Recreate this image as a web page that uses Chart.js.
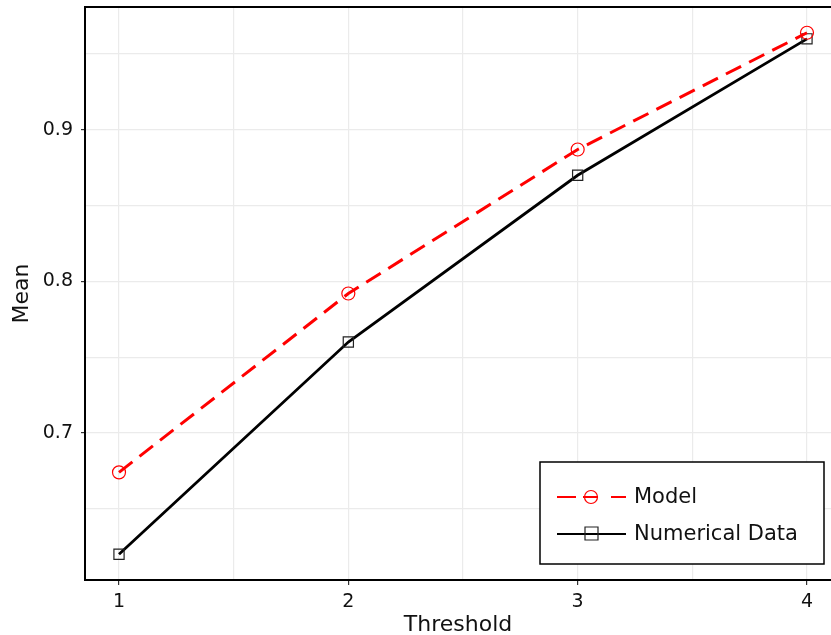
<!DOCTYPE html>
<html>
<head>
<meta charset="utf-8">
<script src="https://cdn.jsdelivr.net/npm/chart.js@4/dist/chart.umd.min.js"></script>
<style>
  html, body { margin: 0; padding: 0; background: #fff; overflow: hidden; }
</style>
</head>
<body>
<canvas id="meanChart" width="831" height="635"></canvas>
<script>
var thresholds = [1, 2, 3, 4];
var modelMeans = [0.674, 0.792, 0.887, 0.964];
var numericalMeans = [0.620, 0.760, 0.870, 0.960];
var yTickLabels = [0.7, 0.8, 0.9];

function toPoints(values) {
  return thresholds.map(function (t, i) { return { x: t, y: values[i] }; });
}

function isLabelled(v) {
  for (var i = 0; i < yTickLabels.length; i++) {
    if (Math.abs(v - yTickLabels[i]) < 1e-6) return true;
  }
  return false;
}

var FONT = "'DejaVu Sans', sans-serif";

var frameAndLegend = {
  id: "frameAndLegend",
  afterDraw: function (chart) {
    var c = chart.ctx, a = chart.chartArea;
    c.save();
    // top border of the panel
    c.strokeStyle = "#000";
    c.lineWidth = 2;
    c.beginPath();
    c.moveTo(a.left - 1, a.top);
    c.lineTo(a.right, a.top);
    c.stroke();

    // legend box
    c.fillStyle = "#fff";
    c.fillRect(540, 462, 284, 102);
    c.lineWidth = 1.5;
    c.strokeRect(540, 462, 284, 102);

    var ds = chart.data.datasets;
    var rows = { "Model": 497, "Numerical Data": 534 };
    c.font = "21px " + FONT;
    c.textBaseline = "middle";
    ds.forEach(function (d) {
      var y = rows[d.label];
      c.strokeStyle = d.borderColor;
      c.lineWidth = 2;
      c.setLineDash(d.borderDash ? [19, 7, 15, 13] : []);
      c.beginPath();
      c.moveTo(557, y);
      c.lineTo(626, y);
      c.stroke();
      c.setLineDash([]);
      c.lineWidth = 1.2;
      c.strokeStyle = d.pointBorderColor;
      c.beginPath();
      if (d.pointStyle === "circle") {
        c.arc(591, y, 6.5, 0, Math.PI * 2);
      } else {
        c.rect(585, y - 7, 13, 13);
      }
      c.stroke();
      c.fillStyle = "#111";
      c.fillText(d.label, 634, y + 1);
    });
    c.restore();
  }
};

new Chart(document.getElementById("meanChart"), {
  type: "line",
  data: {
    datasets: [{
      label: "Model",
      data: toPoints(modelMeans),
      borderColor: "#ff0000",
      borderWidth: 3,
      borderDash: [17, 9],
      pointStyle: "circle",
      pointRadius: 6.5,
      pointBorderWidth: 1.2,
      pointBorderColor: "#ff0000",
      pointBackgroundColor: "rgba(0,0,0,0)",
    }, {
      label: "Numerical Data",
      data: toPoints(numericalMeans),
      borderColor: "#000",
      borderWidth: 2.8,
      pointStyle: "rect",
      pointRadius: 7.2,
      pointBorderWidth: 1.2,
      pointBorderColor: "#222",
      pointBackgroundColor: "rgba(0,0,0,0)",
    }],
  },
  options: {
    responsive: false,
    animation: false,
    layout: { autoPadding: false, padding: { top: 7, left: 0, right: 0, bottom: 0 } },
    plugins: { legend: { display: false }, tooltip: { enabled: false } },
    scales: {
      x: {
        type: "linear",
        min: 0.8517,
        max: 4.1047,
        afterFit: function (s) {
          s.height = 55;
          s.paddingLeft = 0;
          s.paddingRight = 0;
        },
        ticks: {
          stepSize: 0.5,
          includeBounds: false,
          padding: 6,
          color: "#111",
          font: { family: FONT, size: 19 },
          maxRotation: 0,
          callback: function (v) { return thresholds.indexOf(v) >= 0 ? String(v) : ""; },
        },
        grid: {
          color: "#ebebeb",
          lineWidth: 1.2,
          tickLength: 5,
          tickColor: function (ctx) {
            return ctx.tick && thresholds.indexOf(ctx.tick.value) >= 0 ? "#333" : "rgba(0,0,0,0)";
          },
        },
        border: { display: true, color: "#000", width: 2 },
        title: {
          display: true,
          text: "Threshold",
          color: "#111",
          font: { family: FONT, size: 22, lineHeight: 1 },
          padding: { top: 0, bottom: -1 },
        },
      },
      y: {
        min: 0.603,
        max: 0.981,
        afterFit: function (s) {
          s.width = 85;
          s.paddingTop = 0;
          s.paddingBottom = 0;
        },
        ticks: {
          stepSize: 0.05,
          includeBounds: false,
          padding: 8,
          color: "#111",
          font: { family: FONT, size: 19 },
          callback: function (v) { return isLabelled(v) ? v.toFixed(1) : ""; },
        },
        grid: {
          color: "#ebebeb",
          lineWidth: 1.2,
          tickLength: 4,
          tickColor: function (ctx) {
            return ctx.tick && isLabelled(ctx.tick.value) ? "#333" : "rgba(0,0,0,0)";
          },
        },
        border: { display: true, color: "#000", width: 2 },
        title: {
          display: true,
          text: "Mean",
          color: "#111",
          font: { family: FONT, size: 22, lineHeight: 1 },
          padding: 11,
        },
      },
    },
  },
  plugins: [frameAndLegend],
});
</script>
</body>
</html>
